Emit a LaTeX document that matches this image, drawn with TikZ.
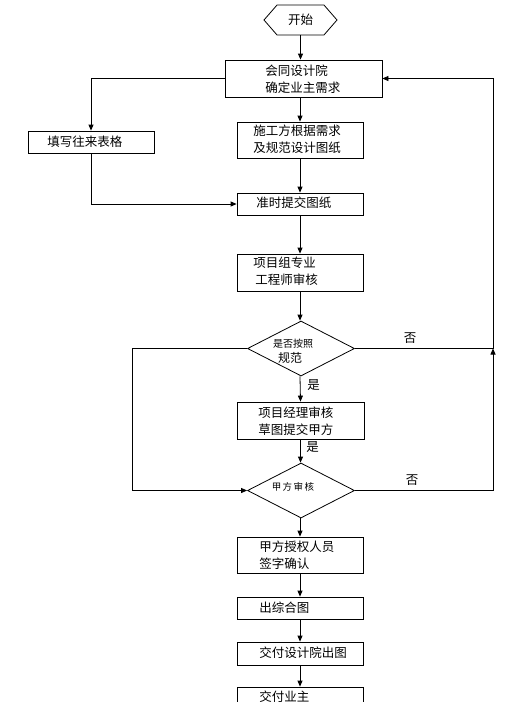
\documentclass[tikz,border=0pt]{standalone}
\usepackage{fontspec}
\setmainfont{Noto Sans CJK SC}
\usetikzlibrary{arrows.meta,shapes.geometric,shapes.symbols}
\begin{document}
\begin{tikzpicture}[x=1pt,y=-1pt,
  line width=0.8pt,
  box/.style={draw, rectangle, inner sep=0pt, minimum width=126pt},
  dia/.style={draw, diamond, inner sep=0pt, minimum width=107pt, minimum height=55pt},
  txt/.style={anchor=west, inner sep=0pt, align=left, font=\fontsize{12.5}{17}\selectfont},
  lbl/.style={inner sep=0pt, font=\fontsize{12.5}{15}\selectfont},
  arr/.style={-{Triangle[length=6pt,width=5pt]}},
]
\useasboundingbox (0,0) rectangle (518,702);
\clip (0,0) rectangle (518,702);
\fill[white] (0,0) rectangle (518,702);

% shapes
\node[draw, signal, signal to=west and east, signal pointer angle=98,
      minimum width=73pt, minimum height=30pt, inner sep=0pt,
      font=\fontsize{12.5}{15}\selectfont] (start) at (300.5,20) {开始};
\node[box, minimum width=157pt, minimum height=37pt] (b1) at (303.5,78.5) {};
\node[box, minimum height=22pt] (bf) at (91,142) {};
\node[box, minimum height=36pt] (b2) at (300,140) {};
\node[box, minimum height=22pt] (b3) at (300,204) {};
\node[box, minimum height=37pt] (b4) at (300,272.5) {};
\node[dia] (d1) at (301,348.5) {};
\node[box, minimum width=127pt, minimum height=37pt] (b5) at (300.5,420.5) {};
\node[dia] (d2) at (301,490.5) {};
\node[box, minimum height=36pt] (b6) at (300,555) {};
\node[box, minimum height=22pt] (b7) at (300,608) {};
\node[box, minimum height=23pt] (b8) at (300,653.5) {};
\node[box, minimum height=22pt] (b9) at (300,698) {};

% texts
\node[txt] (t1) at (265,79) {会同设计院\\确定业主需求};
\node[txt] (tf) at (47,142) {填写往来表格};
\node[txt] (t2) at (253,139.5) {施工方根据需求\\及规范设计图纸};
\node[txt] (t3) at (256,203) {准时提交图纸};
\node[txt] (t4) at (253,271.5) {项目组专业\\\hspace*{2pt}工程师审核};
\node[txt] (t5) at (258,421.5) {项目经理审核\\草图提交甲方};
\node[txt] (t6) at (259,555.5) {甲方授权人员\\签字确认};
\node[txt] (t7) at (259,607.5) {出综合图};
\node[txt] (t8) at (259,653) {交付设计院出图};
\node[txt] (t9) at (259,697) {交付业主};
\node[inner sep=0pt, font=\fontsize{10}{12}\selectfont] (td1a) at (293,344) {是否按照};
\node[inner sep=0pt, font=\fontsize{12}{14}\selectfont] (td1b) at (290,358) {规范};
\node[inner sep=0pt, font=\fontsize{9.5}{12}\selectfont] (td2) at (293,487) {甲\hspace{1.5pt}方\hspace{1.5pt}审\hspace{1.5pt}核};
\node[lbl] (no1) at (410,338) {否};
\node[lbl] (no2) at (412,480) {否};
\node[lbl] (yes1) at (313.5,385) {是};
\node[lbl] (yes2) at (312.5,447) {是};

% helper coordinates
\coordinate (l1) at (132,348.5);
\coordinate (l2) at (132,490.5);
\coordinate (rj) at (493,348.5);
\coordinate (rt) at (493,78.5);
\coordinate (rb) at (493,490.5);

% connectors
\draw[arr] (start.south) -- (start.south |- b1.north);
\draw[arr] (b1.west) -| (bf.north);
\draw[arr] (b2.north |- b1.south) -- (b2.north);
\draw[arr] (b2.south) -- (b3.north);
\draw[arr] (bf.south) |- (b3.west);
\draw[arr] (b3.south) -- (b4.north);
\draw[arr] (b4.south) -- (b4.south |- d1.north);
\draw[arr] (b4.south |- d1.south) -- (b5.north);
\draw[arr] (b5.south) -- (b5.south |- d2.north);
\draw[arr] (b6.north |- d2.south) -- (b6.north);
\draw[arr] (b6.south) -- (b7.north);
\draw[arr] (b7.south) -- (b8.north);
\draw[arr] (b8.south) -- (b9.north);
\draw[arr] (d1.west) -- (l1) -- (l2) -- (d2.west);
\draw[arr] (d2.east) -- (rb) -- (rj);
\draw[arr] (d1.east) -- (rj) -- (rt) -- (b1.east);
\end{tikzpicture}
\end{document}
